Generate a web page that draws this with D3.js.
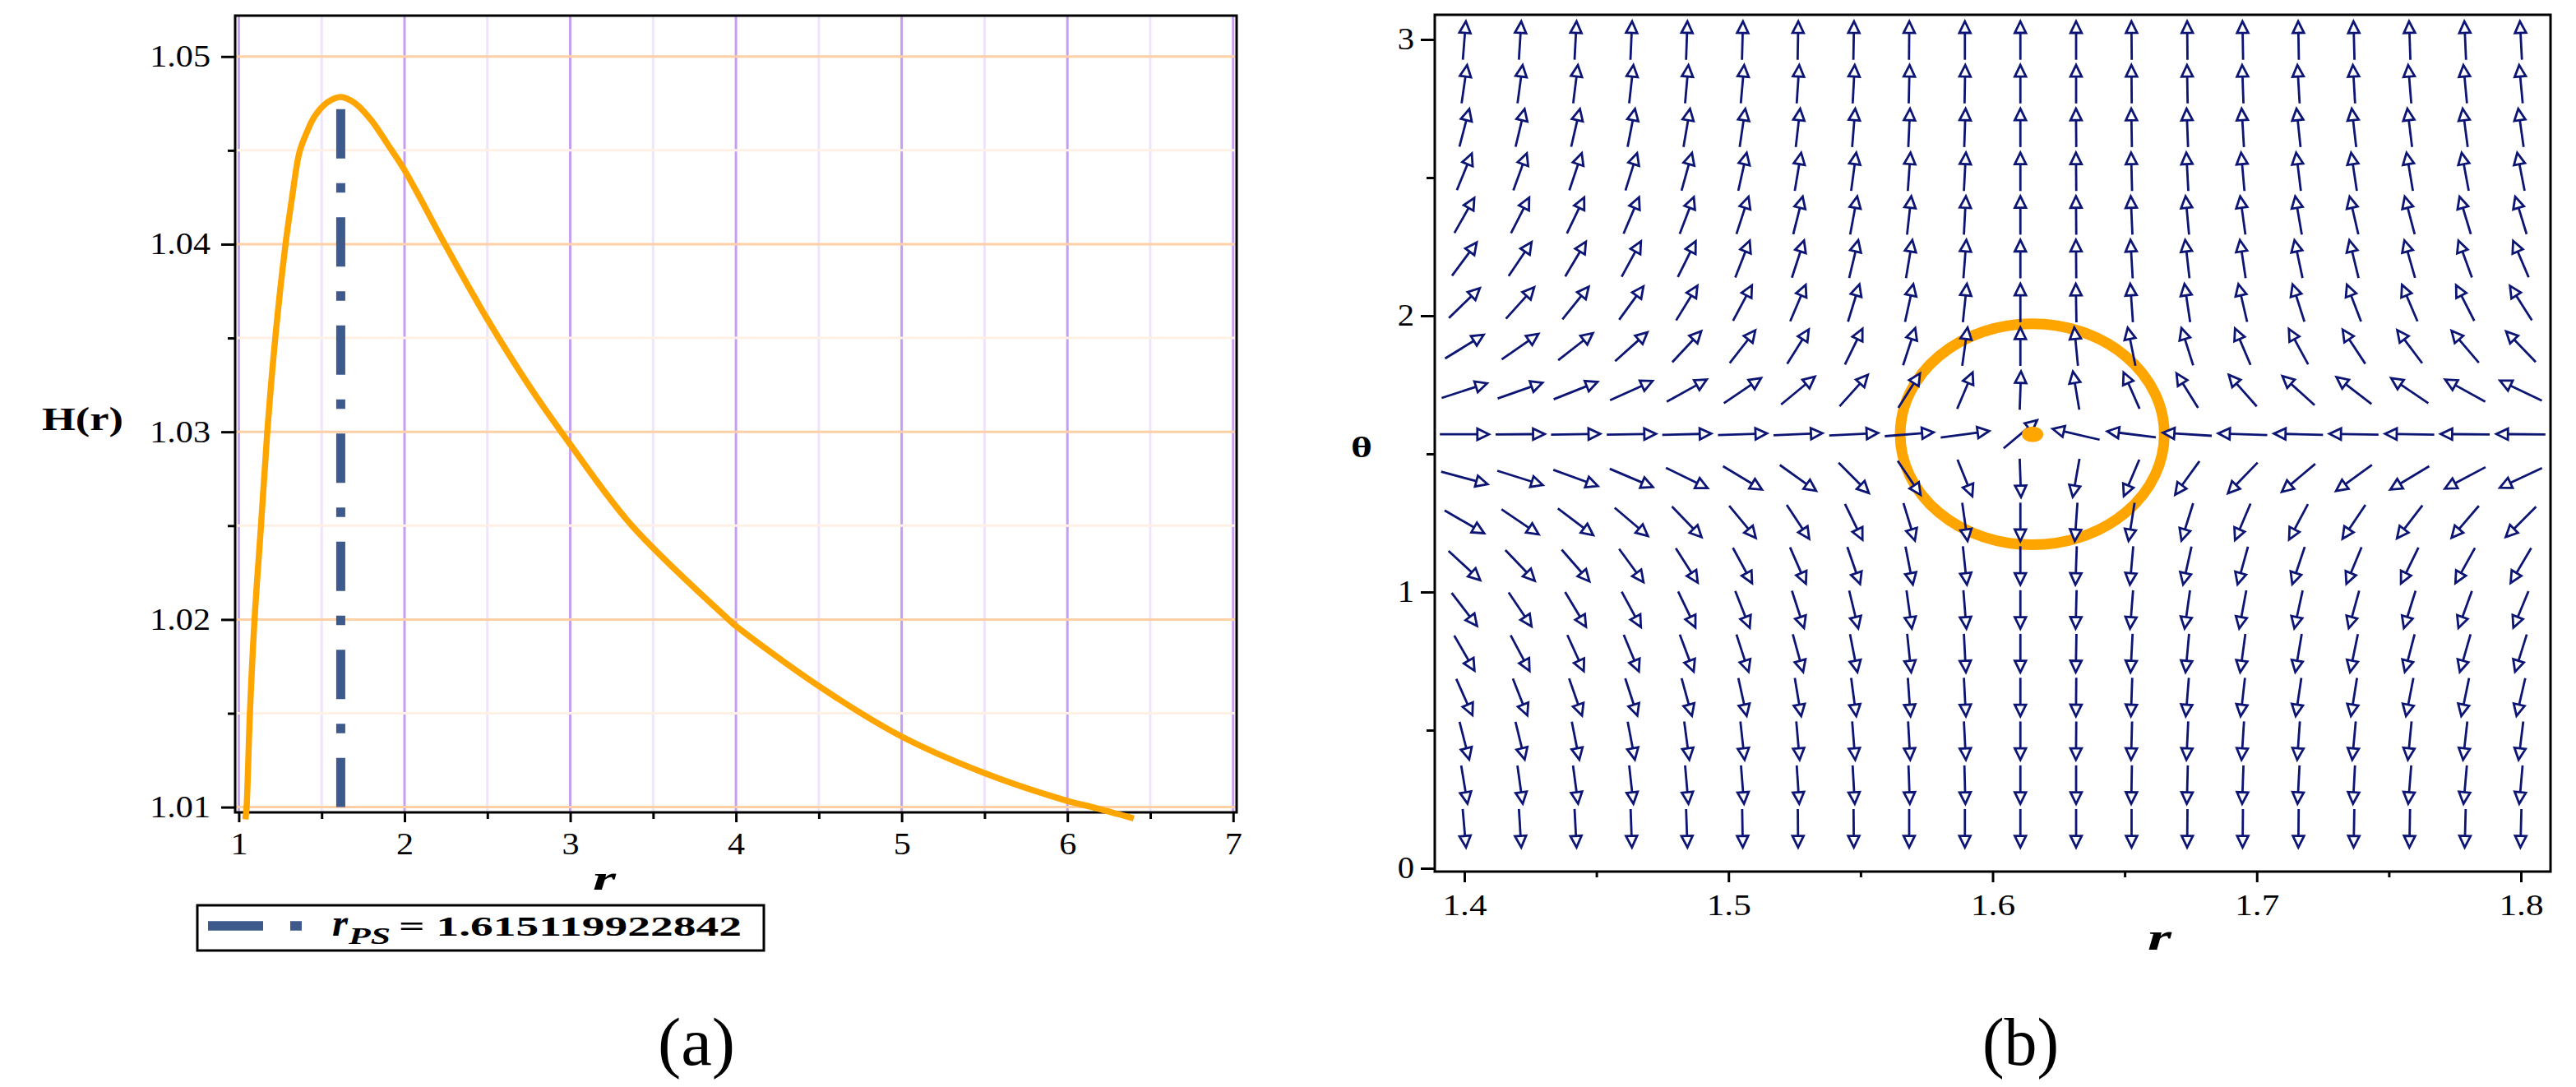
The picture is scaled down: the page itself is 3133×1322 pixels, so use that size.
<!DOCTYPE html>
<html>
<head>
<meta charset="utf-8">
<script src="https://cdn.jsdelivr.net/npm/d3@7"></script>
<style>
  body { margin: 0; background: #fff; }
  svg { display: block; }
  svg text { font-family: 'Liberation Serif', 'Times New Roman', serif; }
</style>
</head>
<body>
<svg id="chart" width="3133" height="1322"></svg>
<script>
// ---------- panel (a): H(r) ----------
var curveR = [1.040, 1.047, 1.067, 1.095, 1.134, 1.172, 1.220, 1.282, 1.320, 1.366,
              1.410, 1.458, 1.537, 1.615, 1.700, 1.800, 1.900, 2.000, 2.250, 2.500,
              2.750, 3.000, 3.372, 3.955, 4.000, 4.500, 5.000, 5.500, 6.000, 6.150, 6.400];
var curveH = [1.00935, 1.0100, 1.0150, 1.0200, 1.0250, 1.0300, 1.0350, 1.0400, 1.0424, 1.0449,
              1.04595, 1.04682, 1.04757, 1.04784, 1.04752, 1.04660, 1.04530, 1.04395, 1.03990, 1.03600,
              1.03248, 1.02933, 1.0250, 1.0200, 1.01965, 1.01645, 1.01376, 1.01181, 1.01033, 1.0100, 1.00940];
var rPS = 1.615119922842;
var rPSLineTop = 1.0472;
var aXTicks = [1, 2, 3, 4, 5, 6, 7];
var aXMinor = [1.5, 2.5, 3.5, 4.5, 5.5, 6.5];
var aYTicks = [1.01, 1.02, 1.03, 1.04, 1.05];
var aYMinor = [1.015, 1.025, 1.035, 1.045];
var legendText = '= 1.615119922842';

// ---------- panel (b): normalized vector field ----------
var fieldR = [1.4, 1.4211, 1.4421, 1.4632, 1.4842, 1.5053, 1.5263, 1.5474, 1.5684, 1.5895,
              1.6105, 1.6316, 1.6526, 1.6737, 1.6947, 1.7158, 1.7368, 1.7579, 1.7789, 1.8];
var fieldTheta = [0.145, 0.303, 0.462, 0.620, 0.779, 0.937, 1.096, 1.254, 1.413, 1.571,
                  1.729, 1.888, 2.046, 2.205, 2.363, 2.521, 2.680, 2.838, 2.996];
// arrow direction on the page, degrees counter-clockwise from +r; one row per theta (bottom first)
var fieldAngle = [
  [-85, -86.5, -87, -88, -88, -89, -89.5, -89.5, -90, -90, -90, -90, -90, -90.5, -90.5, -90.5, -91, -91, -91.5, -91.5],
  [-80.6, -82, -82.4, -83.7, -85, -85.5, -86.3, -86.8, -88, -88.5, -90, -90, -91, -91.5, -92, -93, -93, -94.5, -95, -95],
  [-75.7, -76.3, -78.8, -79.3, -82.4, -83.7, -85, -85.5, -86.8, -87, -90, -90.5, -91.5, -92.7, -93.7, -94, -95.3, -95.5, -96.4, -97],
  [-66, -68.5, -70.8, -72, -74.6, -77.6, -80.5, -82.4, -86, -87, -90, -90.5, -92, -94.6, -96.5, -98.4, -99, -101, -101.6, -103],
  [-60, -62, -65.6, -67.5, -69.4, -72, -74.6, -79, -84, -87, -90, -91, -93, -95.3, -97.7, -99.6, -101.6, -104.6, -106, -107.4],
  [-52.4, -56, -59, -61.5, -64.4, -68.5, -72, -76.5, -82, -85.5, -90, -91.5, -94.5, -98, -100.5, -102.4, -105.5, -107.4, -110, -112.4],
  [-42.8, -46.2, -48.9, -53.8, -57.5, -61.5, -66.4, -71, -79, -84, -90, -92, -95, -102.5, -105.5, -108.5, -112.5, -116, -119, -120.5],
  [-30, -34, -37, -40.4, -46, -50.5, -56.6, -64, -73, -82, -90, -94, -99, -107.4, -113, -118, -124, -127.7, -130.5, -135],
  [-15, -17.5, -20, -23, -26, -31, -35.5, -45, -56, -68, -88, -100, -113, -126, -134, -140, -144, -149, -152, -155],
  [0, 0.5, 1, 1, 1.5, 2, 2.5, 3, 4.5, 7.5, 40, 167, 173, 176.4, 178, 178.5, 179, 179, 179.5, 179.5],
  [17.9, 19.3, 21.6, 24.3, 29, 34, 39.5, 48, 57.8, 67, 88, 99.5, 113.7, 122, 131.5, 138, 142.5, 146, 151, 154.6],
  [31.6, 34.7, 38, 41.8, 47, 52, 58, 64, 72, 82, 90, 95.5, 101.5, 107.5, 113, 118.6, 123.5, 127, 130.5, 134],
  [44, 48, 51, 54, 58.5, 62, 67, 73, 77.7, 84, 90, 91, 94, 98.5, 103, 107.6, 111, 113, 117, 122.5],
  [53.4, 56, 59.3, 61.4, 63.5, 68.5, 72, 76.5, 80.6, 85.6, 90, 90.5, 93.3, 96.5, 98.5, 102, 103.7, 105.8, 110, 113],
  [60.5, 63, 64.4, 67, 69, 72, 76, 79.5, 83.7, 87, 90, 90.5, 92.5, 95.2, 97.8, 99.8, 103, 104.8, 106.8, 107],
  [67.8, 70, 71.6, 72.7, 74.5, 77.5, 80.5, 82.4, 86, 87, 90, 90.5, 91.5, 93, 95, 97, 98.5, 99.5, 100.5, 101],
  [75.4, 76.6, 77, 79, 80.3, 81.6, 83.5, 85.4, 87.4, 88, 90, 90.5, 91, 92.2, 93.5, 96, 96.6, 97, 97.5, 98],
  [81.8, 82.4, 83, 83.7, 85, 85, 86.3, 87, 88.7, 89, 90, 90, 90.5, 91, 92, 93.3, 93.3, 94.6, 95.3, 95.3],
  [85.5, 86.5, 87, 87.5, 88, 88.5, 89, 89, 89.5, 90, 90, 90, 90.5, 90.5, 91, 91, 91.5, 92, 92.5, 93]
];
var contourCenter = [1.615, 1.5708];
var contourAxes = [0.05, 0.4];
var bXTicks = [1.4, 1.5, 1.6, 1.7, 1.8];
var bXMinor = [1.45, 1.55, 1.65, 1.75];
var bYTicks = [0, 1, 2, 3];
var bYMinor = [0.5, 1.5, 2.5];

var serif = "'Liberation Serif', 'Times New Roman', serif";
var svg = d3.select('#chart');
svg.append('rect').attr('width', 3133).attr('height', 1322).attr('fill', '#fff');

drawPanelA();
drawPanelB();

// Maple's text comes out wider than the font, so stretch each label a bit
function stretch(sel, factor) {
    sel.each(function() {
        var w = this.getComputedTextLength();
        d3.select(this).attr('textLength', w * factor).attr('lengthAdjust', 'spacingAndGlyphs');
    });
}

function label(g, x, y, str, size, width, weight, style) {
    return g.append('text')
        .attr('x', x).attr('y', y)
        .style('font-family', serif)
        .attr('font-size', size)
        .attr('font-weight', weight || 'normal')
        .attr('font-style', style || 'normal')
        .attr('textLength', width)
        .attr('lengthAdjust', 'spacingAndGlyphs')
        .text(str);
}

function styleAxis(ax, fontSize, factor) {
    ax.attr('font-family', null);
    ax.select('.domain').remove();
    ax.selectAll('line').attr('stroke', '#000').attr('stroke-width', 3);
    ax.selectAll('text').attr('font-size', fontSize).attr('fill', '#000')
        .style('font-family', serif);
    stretch(ax.selectAll('text'), factor);
}

function drawPanelA() {
    var box = {left: 286, right: 1504, top: 19, bottom: 988};
    var x = d3.scaleLinear().domain([0.978, 7.021]).range([box.left, box.right]),
        y = d3.scaleLinear().domain([1.00972, 1.05218]).range([box.bottom, box.top]);
    var g = svg.append('g');

    // vertical grid first, horizontal grid painted on top of it
    g.selectAll('.vMinor').data(aXMinor).enter().append('line')
        .attr('x1', x).attr('x2', x).attr('y1', box.top).attr('y2', box.bottom)
        .attr('stroke', '#efe4fb').attr('stroke-width', 3);
    g.selectAll('.vMajor').data(aXTicks).enter().append('line')
        .attr('x1', x).attr('x2', x).attr('y1', box.top).attr('y2', box.bottom)
        .attr('stroke', '#c69ef0').attr('stroke-width', 3);
    g.selectAll('.hMinor').data(aYMinor).enter().append('line')
        .attr('y1', y).attr('y2', y).attr('x1', box.left).attr('x2', box.right)
        .attr('stroke', '#fff0e5').attr('stroke-width', 3);
    g.selectAll('.hMajor').data(aYTicks).enter().append('line')
        .attr('y1', y).attr('y2', y).attr('x1', box.left).attr('x2', box.right)
        .attr('stroke', '#ffcfa6').attr('stroke-width', 3);

    // axes
    var left = g.append('g').attr('transform', 'translate(' + box.left + ',0)')
        .call(d3.axisLeft(y).tickValues(aYTicks).tickSize(17).tickPadding(13).tickFormat(d3.format('.2f')));
    styleAxis(left, 37, 1.14);
    var leftMinor = g.append('g').attr('transform', 'translate(' + box.left + ',0)')
        .call(d3.axisLeft(y).tickValues(aYMinor).tickSize(9).tickFormat(''));
    styleAxis(leftMinor, 37, 1);
    var bottom = g.append('g').attr('transform', 'translate(0,' + box.bottom + ')')
        .call(d3.axisBottom(x).tickValues(aXTicks).tickSize(12).tickPadding(13).tickFormat(d3.format('d')));
    styleAxis(bottom, 37, 1.14);
    var bottomMinor = g.append('g').attr('transform', 'translate(0,' + box.bottom + ')')
        .call(d3.axisBottom(x).tickValues(aXMinor).tickSize(8).tickFormat(''));
    styleAxis(bottomMinor, 37, 1);

    g.append('rect')
        .attr('x', box.left).attr('y', box.top)
        .attr('width', box.right - box.left).attr('height', box.bottom - box.top)
        .attr('fill', 'none').attr('stroke', '#000').attr('stroke-width', 3);

    // H(r) curve
    var line = d3.line()
        .x(function(d) { return x(d[0]); })
        .y(function(d) { return y(d[1]); })
        .curve(d3.curveCatmullRom.alpha(0.5));
    g.append('path')
        .datum(d3.zip(curveR, curveH))
        .attr('d', line)
        .attr('fill', 'none')
        .attr('stroke', '#ffa500')
        .attr('stroke-width', 7.5);

    // photon sphere marker
    g.append('line')
        .attr('x1', x(rPS)).attr('x2', x(rPS))
        .attr('y1', y(rPSLineTop)).attr('y2', y(1.01))
        .attr('stroke', '#3e5a8c').attr('stroke-width', 11)
        .attr('stroke-dasharray', '60 30 11.5 30');

    // axis titles
    label(g, 51, 523, 'H(r)', 40, 99, 'bold');
    label(g, 721, 1082, 'r', 43, 28, 'bold', 'italic');

    // legend
    g.append('rect')
        .attr('x', 240).attr('y', 1101).attr('width', 689).attr('height', 55)
        .attr('fill', '#fff').attr('stroke', '#000').attr('stroke-width', 3);
    g.append('line')
        .attr('x1', 253).attr('x2', 367).attr('y1', 1126).attr('y2', 1126)
        .attr('stroke', '#3e5a8c').attr('stroke-width', 11.5)
        .attr('stroke-dasharray', '67 33 14 40');
    label(g, 404, 1138, 'r', 46, 19, 'bold', 'italic');
    label(g, 424, 1148, 'PS', 29, 51, 'bold', 'italic');
    label(g, 485, 1138, legendText, 34, 417, 'bold');

    label(g, 800, 1295, '(a)', 82, 94);
}

function drawPanelB() {
    var box = {left: 1745, right: 3102, top: 18, bottom: 1060};
    var x = d3.scaleLinear().domain([1.3888, 1.8112]).range([box.left, box.right]),
        y = d3.scaleLinear().domain([-0.0119, 3.0893]).range([box.bottom, box.top]);
    var g = svg.append('g');

    var left = g.append('g').attr('transform', 'translate(' + box.left + ',0)')
        .call(d3.axisLeft(y).tickValues(bYTicks).tickSize(17).tickPadding(8).tickFormat(d3.format('d')));
    styleAxis(left, 37, 1.1);
    var leftMinor = g.append('g').attr('transform', 'translate(' + box.left + ',0)')
        .call(d3.axisLeft(y).tickValues(bYMinor).tickSize(10).tickFormat(''));
    styleAxis(leftMinor, 37, 1);
    var bottom = g.append('g').attr('transform', 'translate(0,' + box.bottom + ')')
        .call(d3.axisBottom(x).tickValues(bXTicks).tickSize(13).tickPadding(14).tickFormat(d3.format('.1f')));
    styleAxis(bottom, 36, 1.2);
    var bottomMinor = g.append('g').attr('transform', 'translate(0,' + box.bottom + ')')
        .call(d3.axisBottom(x).tickValues(bXMinor).tickSize(7).tickFormat(''));
    styleAxis(bottomMinor, 36, 1);

    g.append('rect')
        .attr('x', box.left).attr('y', box.top)
        .attr('width', box.right - box.left).attr('height', box.bottom - box.top)
        .attr('fill', 'none').attr('stroke', '#000').attr('stroke-width', 3);

    // closed contour around the zero point
    g.append('ellipse')
        .attr('cx', x(contourCenter[0])).attr('cy', y(contourCenter[1]))
        .attr('rx', x(contourCenter[0] + contourAxes[0]) - x(contourCenter[0]))
        .attr('ry', y(contourCenter[1]) - y(contourCenter[1] + contourAxes[1]))
        .attr('fill', 'none').attr('stroke', '#ffa500').attr('stroke-width', 13);

    // arrows: scaled to 88% of a grid cell along each axis, like Maple's fieldplot
    var cellW = x(fieldR[1]) - x(fieldR[0]),
        cellH = y(fieldTheta[0]) - y(fieldTheta[1]),
        lx = 0.88 * cellW, ly = 0.88 * cellH,
        headLen = 14, headHalf = 6.8;

    var arrows = [];
    fieldTheta.forEach(function(th, k) {
        fieldR.forEach(function(r, j) {
            arrows.push({r: r, th: th, angle: fieldAngle[k][j]});
        });
    });

    var arrow = g.selectAll('.arrow')
        .data(arrows)
        .enter().append('g')
        .attr('class', 'arrow');

    arrow.each(function(d) {
        var s = d.angle * Math.PI / 180,
            a = Math.atan2(Math.sin(s) / ly, Math.cos(s) / lx),
            vx = lx * Math.cos(a), vy = -ly * Math.sin(a),
            len = Math.sqrt(vx * vx + vy * vy),
            ux = vx / len, uy = vy / len,
            cx = x(d.r), cy = y(d.th),
            tipX = cx + vx / 2, tipY = cy + vy / 2,
            baseX = tipX - ux * headLen, baseY = tipY - uy * headLen;
        var el = d3.select(this);
        el.append('line')
            .attr('x1', cx - vx / 2).attr('y1', cy - vy / 2)
            .attr('x2', baseX).attr('y2', baseY)
            .attr('stroke', '#0c1574').attr('stroke-width', 2.8);
        el.append('path')
            .attr('d', 'M' + tipX + ',' + tipY +
                'L' + (baseX - uy * headHalf) + ',' + (baseY + ux * headHalf) +
                'L' + (baseX + uy * headHalf) + ',' + (baseY - ux * headHalf) + 'Z')
            .attr('fill', '#fff').attr('stroke', '#0c1574').attr('stroke-width', 2.8)
            .attr('stroke-linejoin', 'miter');
    });

    // zero point of the field (photon sphere)
    g.append('ellipse')
        .attr('cx', x(rPS)).attr('cy', y(contourCenter[1]))
        .attr('rx', 13).attr('ry', 9.5)
        .attr('fill', '#ffa500');

    label(g, 1643, 556, '\u03b8', 36, 26, 'bold');
    label(g, 2612, 1155, 'r', 46, 29, 'bold', 'italic');
    label(g, 2411, 1295, '(b)', 82, 93);
}
</script>
</body>
</html>
